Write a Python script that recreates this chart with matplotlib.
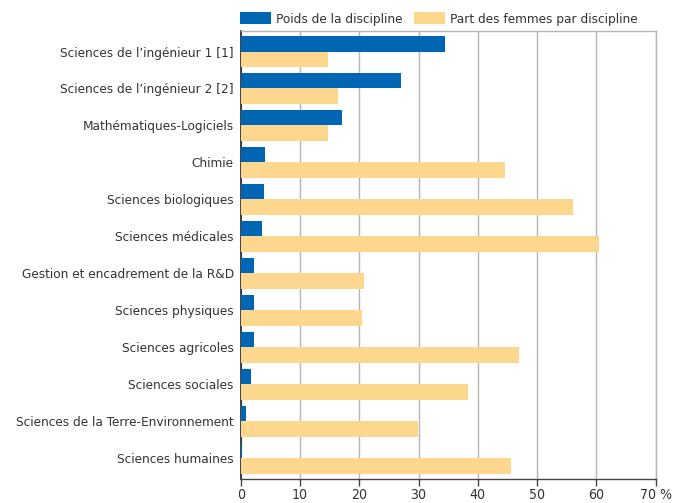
import numpy as np
import matplotlib.pyplot as plt
from matplotlib import font_manager as fm

# Prefer a narrow sans face for the long discipline names
narrow = [f for f in fm.fontManager.ttflist
          if f.style == "normal" and f.weight in (400, "normal", "regular")
          and ("Narrow" in f.name or f.stretch in ("condensed", "semi-condensed"))]
if narrow:
    plt.rcParams['font.family'] = [narrow[0].name, 'DejaVu Sans']
    plt.rcParams['font.stretch'] = narrow[0].stretch
    FS = 9.7
else:
    plt.rcParams['font.family'] = ['Liberation Sans', 'DejaVu Sans']
    FS = 9.3

disciplines = [
    "Sciences de l\u2019ingénieur 1 [1]",
    "Sciences de l\u2019ingénieur 2 [2]",
    "Mathématiques-Logiciels",
    "Chimie",
    "Sciences biologiques",
    "Sciences médicales",
    "Gestion et encadrement de la R&D",
    "Sciences physiques",
    "Sciences agricoles",
    "Sciences sociales",
    "Sciences de la Terre-Environnement",
    "Sciences humaines",
]
poids = [34.5, 27.0, 17.1, 4.1, 3.9, 3.6, 2.2, 2.2, 2.2, 1.7, 0.9, 0.3]
part_femmes = [14.7, 16.4, 14.7, 44.6, 56.0, 60.4, 20.8, 20.5, 46.9, 38.3, 29.9, 45.6]
xticks = [0, 10, 20, 30, 40, 50, 60, 70]
xticklabels = ["0", "10", "20", "30", "40", "50", "60", "70 %"]

BLUE = "#0066b3"
YELLOW = "#fdd78e"
TEXT = "#333333"

fig = plt.figure(figsize=(6.73, 5.03), dpi=100)
ax = fig.add_axes([240.7 / 673, 1 - 478.7 / 503, 415 / 673, 447.7 / 503])

y = np.arange(len(disciplines))
h = 0.42
ax.barh(y - h / 2, poids, height=h, color=BLUE, label="Poids de la discipline", zorder=3)
ax.barh(y + h / 2, part_femmes, height=h, color=YELLOW,
        label="Part des femmes par discipline", zorder=3)

ax.set_xlim(0, 70)
ax.set_ylim(len(disciplines) - 1 + 0.555, -0.555)
ax.set_xticks(xticks)
ax.set_xticklabels(xticklabels)
ax.set_yticks(y)
ax.set_yticklabels(disciplines)

ax.grid(axis="x", color="#b4b4b4", linewidth=1.0, zorder=0)
ax.tick_params(axis="y", length=0, pad=5, labelsize=FS, labelcolor=TEXT)
ax.tick_params(axis="x", length=5, width=1, color="#444444", pad=1.5,
               labelsize=FS + 0.4, labelcolor=TEXT)

ax.spines["left"].set_color("#222222")
ax.spines["left"].set_linewidth(1.2)
ax.spines["bottom"].set_color("#444444")
ax.spines["bottom"].set_linewidth(1.0)
for side in ("top", "right"):
    ax.spines[side].set_color("#b4b4b4")
    ax.spines[side].set_linewidth(1.0)

ax.legend(loc="lower left", bbox_to_anchor=(-0.002, 1.012), ncol=2, frameon=False,
          fontsize=FS, labelcolor=TEXT, handlelength=2.3, handleheight=0.9,
          handletextpad=0.37, columnspacing=0.85, borderaxespad=0.0, borderpad=0.0)

fig.savefig("out.png", dpi=100)
